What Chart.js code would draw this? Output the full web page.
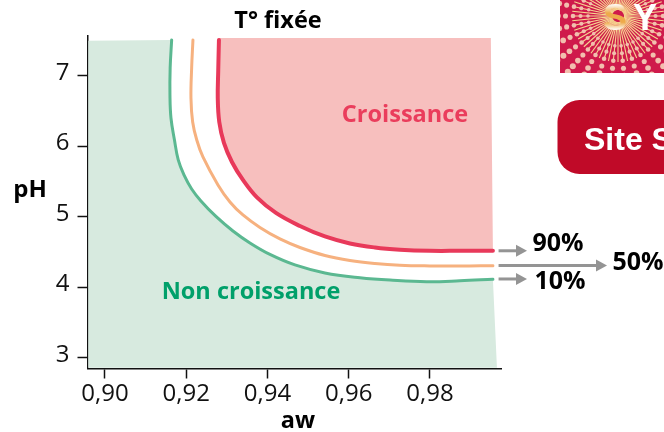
<!DOCTYPE html>
<html lang="fr">
<head>
<meta charset="utf-8">
<title>Croissance aw / pH</title>
<script src="https://cdn.jsdelivr.net/npm/chart.js@4/dist/chart.umd.min.js"></script>
<style>
  html, body { margin: 0; background: #fff; }
  canvas { display: block; }
</style>
</head>
<body>
<canvas id="chart" width="664" height="432"></canvas>
<script>
// iso-probability curves
const greenAw = [0.91642, 0.91605, 0.91600, 0.91625, 0.91711, 0.91804, 0.91945, 0.92134, 0.92363, 0.92732, 0.93151, 0.93569, 0.94062, 0.94677, 0.95415, 0.96277, 0.97089, 0.97919, 0.98738, 0.99551];
const greenPh = [7.511, 7.113, 6.730, 6.404, 6.092, 5.809, 5.596, 5.397, 5.227, 5.007, 4.801, 4.631, 4.468, 4.319, 4.206, 4.138, 4.102, 4.082, 4.094, 4.116];
const orangeAw = [0.92166, 0.92134, 0.92117, 0.92159, 0.92260, 0.92412, 0.92782, 0.93077, 0.93397, 0.93815, 0.94308, 0.94800, 0.95415, 0.96031, 0.96646, 0.97262, 0.98000, 0.98738, 0.99551];
const orangePh = [7.511, 7.113, 6.688, 6.348, 6.092, 5.851, 5.454, 5.213, 5.028, 4.851, 4.688, 4.567, 4.454, 4.383, 4.340, 4.315, 4.305, 4.303, 4.309];
const redAw = [0.92806, 0.92789, 0.92777, 0.92814, 0.92929, 0.93126, 0.93397, 0.93742, 0.94209, 0.94800, 0.95415, 0.96031, 0.96646, 0.97262, 0.98000, 0.98738, 0.99551];
const redPh = [7.511, 7.085, 6.688, 6.348, 6.050, 5.780, 5.525, 5.277, 5.057, 4.872, 4.723, 4.624, 4.567, 4.536, 4.520, 4.520, 4.522];

// corners of the two shaded zones
const greenZoneStart = [[0.8959, 7.50]];
const greenZoneEnd = [[0.9965, 2.86], [0.8959, 2.86]];
const redZoneEnd = [[0.9950, 7.54], [0.9281, 7.54]];

// arrows to the percentage labels
const arrowStartAw = 0.9969;
const arrowEndAw = [1.0039, 1.0236, 1.0039];
const arrowPh = [4.52, 4.31, 4.12];

const xTicks = [0.90, 0.92, 0.94, 0.96, 0.98];
const yTicks = [3, 4, 5, 6, 7];

const toPoints = (xs, ys) => xs.map((x, i) => ({ x, y: ys[i] }));
const cornerPoints = list => list.map(([x, y]) => ({ x, y }));

const curve = (xs, ys, color, width) => ({
    data: toPoints(xs, ys),
    showLine: true,
    borderColor: color,
    borderWidth: width,
    borderCapStyle: 'round',
    tension: 0.4,
    pointRadius: 0,
    fill: false,
    order: 1
});

const zone = (points, color) => ({
    data: points,
    showLine: true,
    borderWidth: 0,
    backgroundColor: color,
    tension: 0,
    pointRadius: 0,
    fill: 'shape',
    order: 3
});

const arrow = i => ({
    data: [{ x: arrowStartAw, y: arrowPh[i] }, { x: arrowEndAw[i] - 0.002, y: arrowPh[i] }],
    showLine: true,
    clip: false,
    borderColor: '#949494',
    borderWidth: 3,
    pointRadius: 0,
    order: 2
});

// logo and button at the right of the page, cut by the frame
function drawLogo(ctx) {
    const cx = 618, cy = 16, rays = 60;
    ctx.save();
    ctx.beginPath();
    ctx.rect(560, 0, 104, 73);
    ctx.clip();
    ctx.fillStyle = '#cf1a4b';
    ctx.fillRect(560, 0, 104, 73);
    for (let a = 0; a < rays; a++) {
        const ang = a / rays * Math.PI * 2;
        const dx = Math.cos(ang), dy = Math.sin(ang);
        ctx.strokeStyle = '#f6d58f';
        ctx.lineWidth = 1.1;
        ctx.beginPath();
        ctx.moveTo(cx + dx * 6, cy + dy * 6);
        ctx.lineTo(cx + dx * 46, cy + dy * 46);
        ctx.stroke();
        if (a % 2) continue;
        for (let r = 30; r < 95; r += 7.5) {
            ctx.fillStyle = '#f2bfae';
            ctx.beginPath();
            ctx.arc(cx + dx * r, cy + dy * r, Math.min(0.8 + r / 30, 3), 0, Math.PI * 2);
            ctx.fill();
        }
    }
    ctx.font = 'bold 36px "Liberation Sans"';
    ctx.textAlign = 'left';
    ctx.textBaseline = 'alphabetic';
    const sFill = ctx.createLinearGradient(0, 4, 0, 30);
    sFill.addColorStop(0, '#fff');
    sFill.addColorStop(0.35, '#eeaa4a');
    sFill.addColorStop(0.7, '#eeaa4a');
    sFill.addColorStop(1, '#fff');
    ctx.fillStyle = sFill;
    ctx.fillText('S', 603, 30);
    ctx.fillStyle = '#fff';
    ctx.fillText('Y', 633, 30);
    ctx.restore();
}

function drawButton(ctx) {
    ctx.save();
    ctx.fillStyle = '#c00a28';
    ctx.beginPath();
    ctx.roundRect(557.5, 100, 130, 74, 22);
    ctx.fill();
    ctx.font = 'bold 32px "Liberation Sans"';
    ctx.fillStyle = '#fff';
    ctx.textAlign = 'left';
    ctx.textBaseline = 'middle';
    ctx.fillText('Site SYM', 584, 141);
    ctx.restore();
}

const labels = [
    { text: 'T° fixée', x: 278, y: 21, size: 23.5, color: '#000' },
    { text: 'pH', x: 30, y: 190, size: 24, color: '#000' },
    { text: 'aw', x: 298, y: 421, size: 23.5, color: '#000' },
    { text: 'Croissance', x: 405, y: 115, size: 23.5, color: '#ea3d5c' },
    { text: 'Non croissance', x: 251, y: 292, size: 23.5, color: '#00a06a' },
    { text: '90%', x: 558, y: 244, size: 25, color: '#000' },
    { text: '50%', x: 638, y: 263, size: 25, color: '#000' },
    { text: '10%', x: 560, y: 282, size: 25, color: '#000' }
];

const decorPlugin = {
    id: 'decor',
    beforeDraw(chart) {
        drawLogo(chart.ctx);
        drawButton(chart.ctx);
    },
    afterDraw(chart) {
        const ctx = chart.ctx;
        const { x: xScale, y: yScale } = chart.scales;
        ctx.save();
        // arrow heads sit outside the chart area, where points are not drawn
        ctx.fillStyle = '#949494';
        arrowEndAw.forEach((aw, i) => {
            const tipX = xScale.getPixelForValue(aw);
            const tipY = yScale.getPixelForValue(arrowPh[i]);
            ctx.beginPath();
            ctx.moveTo(tipX, tipY);
            ctx.lineTo(tipX - 11, tipY - 6);
            ctx.lineTo(tipX - 11, tipY + 6);
            ctx.closePath();
            ctx.fill();
        });
        ctx.textAlign = 'center';
        ctx.textBaseline = 'middle';
        labels.forEach(l => {
            ctx.font = `bold ${l.size}px "Open Sans"`;
            ctx.fillStyle = l.color;
            ctx.fillText(l.text, l.x, l.y);
        });
        ctx.restore();
    }
};

const axisColor = '#111';
const tickFont = { family: '"Open Sans"', size: 24 };

new Chart(document.getElementById('chart'), {
    type: 'scatter',
    data: {
        datasets: [
            zone([...cornerPoints(greenZoneStart), ...toPoints(greenAw, greenPh), ...cornerPoints(greenZoneEnd)], '#d7eadf'),
            zone([...toPoints(redAw, redPh), ...cornerPoints(redZoneEnd)], '#f7bfbe'),
            curve(greenAw, greenPh, '#5bb891', 3),
            curve(orangeAw, orangePh, '#f6b17f', 3),
            curve(redAw, redPh, '#e8395a', 4),
            arrow(0), arrow(1), arrow(2)
        ]
    },
    options: {
        responsive: false,
        animation: false,
        layout: { padding: { left: 0, top: 36, right: 163, bottom: 0 } },
        plugins: { legend: { display: false }, tooltip: { enabled: false } },
        scales: {
            x: {
                type: 'linear',
                min: 0.8957,
                max: 0.9975,
                afterBuildTicks: axis => { axis.ticks = xTicks.map(value => ({ value })); },
                afterFit: axis => { axis.height = 63.5; },
                border: { display: true, color: axisColor, width: 1.5 },
                grid: { drawOnChartArea: false, drawTicks: true, tickLength: 10, tickColor: axisColor, tickWidth: 1.5 },
                ticks: {
                    color: axisColor, font: tickFont, padding: 1, maxRotation: 0, autoSkip: false,
                    callback: v => v.toFixed(2).replace('.', ',')
                }
            },
            y: {
                type: 'linear',
                min: 2.85,
                max: 7.567,
                afterBuildTicks: axis => { axis.ticks = yTicks.map(value => ({ value })); },
                afterFit: axis => { axis.width = 87.5; },
                border: { display: true, color: axisColor, width: 1.5 },
                grid: { drawOnChartArea: false, drawTicks: true, tickLength: 10, tickColor: axisColor, tickWidth: 1.5 },
                ticks: { color: axisColor, font: tickFont, padding: 8, labelOffset: -3, autoSkip: false, callback: v => String(v) }
            }
        }
    },
    plugins: [decorPlugin]
});
</script>
</body>
</html>
